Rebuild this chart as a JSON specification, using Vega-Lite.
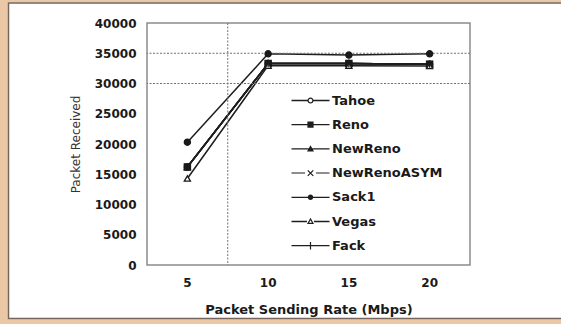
{
  "$schema": "https://vega.github.io/schema/vega-lite/v6.json",
  "width": 323,
  "height": 242,
  "autosize": "none",
  "padding": {"left": 147, "top": 23, "right": 91, "bottom": 59},
  "background": "#ffffff",
  "config": {
    "view": {"stroke": "#8c8c8c", "strokeWidth": 1.5},
    "font": "DejaVu Sans"
  },
  "datasets": {
    "main": [
      {"series": "Tahoe", "rate": 5, "count": 16200},
      {"series": "Tahoe", "rate": 10, "count": 33300},
      {"series": "Tahoe", "rate": 15, "count": 33300},
      {"series": "Tahoe", "rate": 20, "count": 33200},
      {"series": "Reno", "rate": 5, "count": 16200},
      {"series": "Reno", "rate": 10, "count": 33300},
      {"series": "Reno", "rate": 15, "count": 33300},
      {"series": "Reno", "rate": 20, "count": 33200},
      {"series": "NewReno", "rate": 5, "count": 16200},
      {"series": "NewReno", "rate": 10, "count": 33300},
      {"series": "NewReno", "rate": 15, "count": 33300},
      {"series": "NewReno", "rate": 20, "count": 33200},
      {"series": "NewRenoASYM", "rate": 5, "count": 16200},
      {"series": "NewRenoASYM", "rate": 10, "count": 33300},
      {"series": "NewRenoASYM", "rate": 15, "count": 33300},
      {"series": "NewRenoASYM", "rate": 20, "count": 33200},
      {"series": "Sack1", "rate": 5, "count": 20300},
      {"series": "Sack1", "rate": 10, "count": 34900},
      {"series": "Sack1", "rate": 15, "count": 34700},
      {"series": "Sack1", "rate": 20, "count": 34900},
      {"series": "Vegas", "rate": 5, "count": 14300},
      {"series": "Vegas", "rate": 10, "count": 32950},
      {"series": "Vegas", "rate": 15, "count": 32950},
      {"series": "Vegas", "rate": 20, "count": 32900},
      {"series": "Fack", "rate": 5, "count": 16200},
      {"series": "Fack", "rate": 10, "count": 33300},
      {"series": "Fack", "rate": 15, "count": 33300},
      {"series": "Fack", "rate": 20, "count": 33200}
    ],
    "hgrid": [{"count": 30000}, {"count": 35000}],
    "vgrid": [{"rate": 10}],
    "frame": [{"v": 0, "w": 0}, {"v": 1, "w": 1}]
  },
  "layer": [
    {
      "data": {"name": "main"},
      "mark": {"type": "line", "color": "#1e1e1e", "strokeWidth": 1.5},
      "encoding": {
        "x": {
          "field": "rate", "type": "ordinal",
          "title": "Packet Sending Rate (Mbps)",
          "scale": {"type": "band", "domain": [5, 10, 15, 20], "paddingInner": 0, "paddingOuter": 0},
          "axis": {
            "labelAngle": 0, "ticks": false, "domain": false, "grid": false,
            "labelFont": "DejaVu Sans", "labelFontWeight": "bold", "labelFontSize": 12, "labelColor": "#1a1a1a",
            "labelPadding": 12,
            "titleFont": "DejaVu Sans", "titleFontWeight": "bold", "titleFontSize": 13, "titleColor": "#1a1a1a",
            "titlePadding": 15
          }
        },
        "y": {
          "field": "count", "type": "quantitative",
          "title": "Packet Received",
          "scale": {"domain": [0, 40000], "nice": false, "zero": true},
          "axis": {
            "values": [0, 5000, 10000, 15000, 20000, 25000, 30000, 35000, 40000],
            "tickCount": 9,
            "format": "d", "labelOverlap": false,
            "ticks": false, "domain": false, "grid": false,
            "labelFont": "DejaVu Sans", "labelFontWeight": "bold", "labelFontSize": 12, "labelColor": "#1a1a1a",
            "labelPadding": 11,
            "titleFont": "DejaVu Sans", "titleFontWeight": "normal", "titleFontSize": 12, "titleColor": "#333333",
            "titlePadding": 12
          }
        },
        "detail": {"field": "series", "type": "nominal"}
      }
    },
    {
      "data": {"name": "hgrid"},
      "mark": {"type": "rule", "color": "#707070", "strokeWidth": 1, "strokeDash": [2, 1.5]},
      "encoding": {
        "y": {
          "field": "count", "type": "quantitative",
          "title": "Packet Received",
          "scale": {"domain": [0, 40000], "nice": false, "zero": true},
          "axis": {
            "values": [0, 5000, 10000, 15000, 20000, 25000, 30000, 35000, 40000],
            "tickCount": 9,
            "format": "d", "labelOverlap": false,
            "ticks": false, "domain": false, "grid": false,
            "labelFont": "DejaVu Sans", "labelFontWeight": "bold", "labelFontSize": 12, "labelColor": "#1a1a1a",
            "labelPadding": 11,
            "titleFont": "DejaVu Sans", "titleFontWeight": "normal", "titleFontSize": 12, "titleColor": "#333333",
            "titlePadding": 12
          }
        }
      }
    },
    {
      "data": {"name": "vgrid"},
      "mark": {"type": "rule", "color": "#707070", "strokeWidth": 1, "strokeDash": [2, 1.5]},
      "encoding": {
        "x": {
          "field": "rate", "type": "ordinal", "bandPosition": 0,
          "title": "Packet Sending Rate (Mbps)",
          "scale": {"type": "band", "domain": [5, 10, 15, 20], "paddingInner": 0, "paddingOuter": 0},
          "axis": {
            "labelAngle": 0, "ticks": false, "domain": false, "grid": false,
            "labelFont": "DejaVu Sans", "labelFontWeight": "bold", "labelFontSize": 12, "labelColor": "#1a1a1a",
            "labelPadding": 12,
            "titleFont": "DejaVu Sans", "titleFontWeight": "bold", "titleFontSize": 13, "titleColor": "#1a1a1a",
            "titlePadding": 15
          }
        }
      }
    },
    {
      "data": {"name": "main"},
      "mark": {"type": "point", "filled": false, "stroke": "#1a1a1a", "strokeWidth": 1.3, "size": 38, "opacity": 1},
      "encoding": {
        "x": {"field": "rate", "type": "ordinal", "title": "Packet Sending Rate (Mbps)"},
        "y": {"field": "count", "type": "quantitative", "title": "Packet Received"},
        "shape": {
          "field": "series", "type": "nominal", "legend": null,
          "scale": {
            "domain": ["Tahoe", "Reno", "NewReno", "NewRenoASYM", "Sack1", "Vegas", "Fack"],
            "range": ["circle", "square", "triangle-up", "M-1,-1L1,1M-1,1L1,-1", "circle", "triangle-up", "M0,-1.2V1.2M-1,0H1"]
          }
        },
        "fill": {
          "field": "series", "type": "nominal", "legend": null,
          "scale": {
            "domain": ["Tahoe", "Reno", "NewReno", "NewRenoASYM", "Sack1", "Vegas", "Fack"],
            "range": ["#ffffff", "#1a1a1a", "#1a1a1a", "#1a1a1a", "#1a1a1a", "#ffffff", "#1a1a1a"]
          }
        }
      }
    },
    {
      "data": {"name": "main"},
      "transform": [{"filter": "false"}],
      "mark": {"type": "point", "filled": true, "color": "#1e1e1e"},
      "encoding": {
        "shape": {
          "field": "series", "type": "nominal", "title": null,
          "scale": {
            "domain": ["Tahoe", "Reno", "NewReno", "NewRenoASYM", "Sack1", "Vegas", "Fack"],
            "range": [
              "M-3.8,-0.13H-0.6V0.13H-3.8ZM0.6,-0.13H3.8V0.13H0.6ZM-0.62,0A0.62,0.62,0,1,1,0.62,0A0.62,0.62,0,1,1,-0.62,0ZM-0.36,0A0.36,0.36,0,1,0,0.36,0A0.36,0.36,0,1,0,-0.36,0Z",
              "M-3.8,-0.13H3.8V0.13H-3.8ZM-0.62,-0.62H0.62V0.62H-0.62Z",
              "M-3.8,-0.13H3.8V0.13H-3.8ZM0,-0.75L0.7,0.5H-0.7Z",
              "M-3.8,-0.1H-1.1V0.1H-3.8ZM1.1,-0.1H3.8V0.1H1.1ZM-0.465,-0.635L0.635,0.465L0.465,0.635L-0.635,-0.465ZM-0.635,0.465L0.465,-0.635L0.635,-0.465L-0.465,0.635Z",
              "M-3.8,-0.13H3.8V0.13H-3.8ZM-0.55,0A0.55,0.55,0,1,1,0.55,0A0.55,0.55,0,1,1,-0.55,0Z",
              "M-3.8,-0.13H-0.7V0.13H-3.8ZM0.7,-0.13H3.8V0.13H0.7ZM0,-0.75L0.7,0.5H-0.7ZM0,-0.26L-0.291,0.26H0.291Z",
              "M-3.8,-0.13H3.8V0.13H-3.8ZM-0.12,-0.75H0.12V0.75H-0.12Z"
            ]
          },
          "legend": {
            "orient": "none", "legendX": 157, "legendY": 71,
            "padding": 0, "symbolSize": 100, "symbolFillColor": "#1e1e1e", "symbolStrokeWidth": 0,
            "labelFont": "DejaVu Sans", "labelFontWeight": "bold", "labelFontSize": 13, "labelColor": "#1a1a1a",
            "labelOffset": 15, "rowPadding": 10.2, "symbolOpacity": 1, "zindex": 2
          }
        }
      }
    },
    {
      "data": {"name": "frame"},
      "transform": [{"filter": "false"}],
      "mark": {"type": "point"},
      "encoding": {
        "stroke": {
          "field": "v", "type": "quantitative", "title": null,
          "scale": {"domain": [0, 1], "range": ["rgba(0,0,0,0)", "rgba(0,0,0,0)"]},
          "legend": {
            "orient": "none", "direction": "vertical", "legendX": -149.25, "legendY": -30.75,
            "gradientThickness": 584, "gradientLength": 337,
            "gradientStrokeColor": "#e2b27f", "gradientStrokeWidth": 20,
            "labelExpr": "''", "labelOpacity": 0, "padding": 0, "zindex": 1
          }
        }
      }
    },
    {
      "data": {"name": "frame"},
      "transform": [{"filter": "false"}],
      "mark": {"type": "point", "filled": true},
      "encoding": {
        "fill": {
          "field": "w", "type": "quantitative", "title": null,
          "scale": {"domain": [0, 1], "range": ["rgba(0,0,0,0)", "rgba(0,0,0,0)"]},
          "legend": {
            "orient": "none", "direction": "vertical", "legendX": -138.5, "legendY": -20,
            "gradientThickness": 553.5, "gradientLength": 315.5,
            "gradientStrokeColor": "#3b2418", "gradientStrokeWidth": 1.5,
            "labelExpr": "''", "labelOpacity": 0, "padding": 0, "zindex": 1
          }
        }
      }
    }
  ],
  "resolve": {"scale": {"shape": "independent", "fill": "independent"}}
}
